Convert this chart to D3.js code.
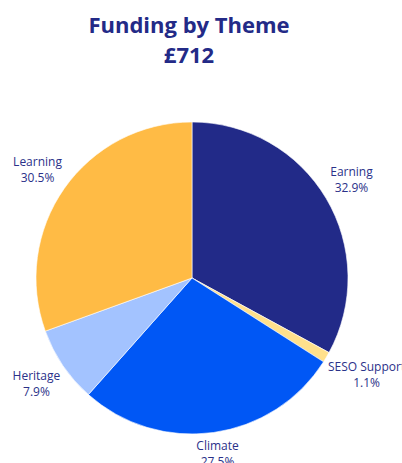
<!DOCTYPE html>
<html><head><meta charset="utf-8">
<script src="https://cdn.jsdelivr.net/npm/d3@7"></script>
<style>html,body{margin:0;padding:0;background:#fff;}svg{display:block;font-family:"Open Sans","Noto Sans",sans-serif;}</style>
</head><body>
<svg id="c" width="402" height="463"></svg>
<script>
const categories = ["Earning", "SESO Support", "Climate", "Heritage", "Learning"];
const values = [32.9, 1.1, 27.5, 7.9, 30.5];
const colors = ["#222a88", "#ffe08c", "#0057f5", "#a3c3ff", "#ffbb45"];
const titleLines = ["Funding by Theme", "£712"];

const svg = d3.select("#c");
const cx = 192, cy = 278, R = 156;

svg.append("g").selectAll("text").data(titleLines).join("text")
  .attr("x", 189).attr("y", (d, i) => 33 + i * 30)
  .attr("text-anchor", "middle").attr("font-size", 22).attr("font-weight", 700)
  .attr("fill", "#232a87").text(d => d);

const data = categories.map((c, i) => ({name: c, value: values[i], color: colors[i]}));
const pie = d3.pie().value(d => d.value).sort(null);
const arcs = pie(data);
const arc = d3.arc().innerRadius(0).outerRadius(R);

const g = svg.append("g").attr("transform", `translate(${cx},${cy})`);
g.selectAll("path").data(arcs).join("path")
  .attr("d", arc).attr("fill", d => d.data.color)
  .attr("stroke", "#fff").attr("stroke-width", 0.6);

const lg = g.append("g");
arcs.forEach(a => {
  const mid = (a.startAngle + a.endAngle) / 2;
  const ux = Math.sin(mid), uy = -Math.cos(mid);
  const t = lg.append("text").attr("text-anchor", "middle")
    .attr("font-size", 12).attr("fill", "#2b3189");
  t.append("tspan").attr("x", 0).attr("dy", 0).text(a.data.name);
  t.append("tspan").attr("x", 0).attr("dy", 16).text(d3.format(".1f")(a.data.value) + "%");
  const bb = t.node().getBBox();
  const px = ux * (R + 8) + ux * bb.width / 2;
  const py = uy * (R + 8) + Math.sign(uy) * 14;
  // block center vertically: first baseline offset
  t.attr("transform", `translate(${px},${py - 8 + 4})`);
});
</script>
</body></html>
